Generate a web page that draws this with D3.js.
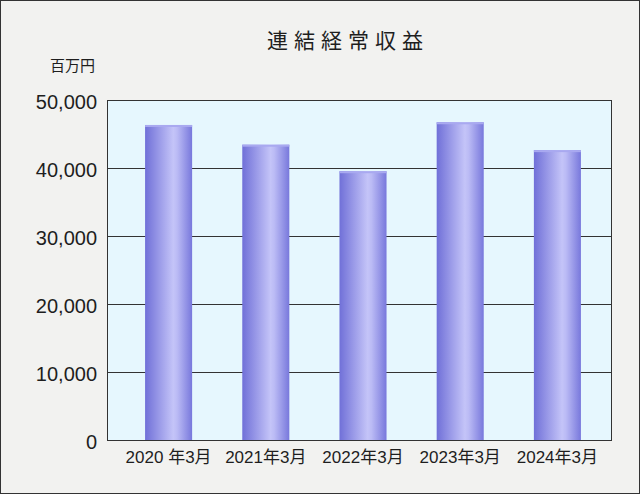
<!DOCTYPE html>
<html><head><meta charset="utf-8">
<script src="https://cdn.jsdelivr.net/npm/d3@7"></script>
<style>
html,body{margin:0;padding:0;background:#fff;}
svg{display:block;}
text{font-family:"Liberation Sans","Noto Sans CJK JP",Arial,sans-serif;fill:#1e1e1e;}
</style></head>
<body>
<script>
const title = "連結経常収益";
const unitLabel = "百万円";
const categories = ["2020 年3月", "2021年3月", "2022年3月", "2023年3月", "2024年3月"];
const values = [46400, 43500, 39600, 46800, 42700];
const yTicks = [0, 10000, 20000, 30000, 40000, 50000];

const W = 640, H = 495;
const plot = {left: 107.5, top: 100.5, right: 611.5, bottom: 440.5};

const svg = d3.select("body").append("svg").attr("width", W).attr("height", H);

const defs = svg.append("defs");
const grad = defs.append("linearGradient").attr("id", "barGrad")
  .attr("x1", "0%").attr("x2", "100%").attr("y1", "0%").attr("y2", "0%");
[[0, "#7070d8"], [0.3, "#9a9ae8"], [0.6, "#c4c4f8"], [0.68, "#bbbbf5"], [1, "#7878dc"]]
  .forEach(([o, c]) => grad.append("stop").attr("offset", o).attr("stop-color", c));

// outer frame
svg.append("rect").attr("x", 0.5).attr("y", 0.5).attr("width", W - 1).attr("height", H - 2)
  .attr("fill", "#f2f2f0").attr("stroke", "#333").attr("stroke-width", 1);

const y = d3.scaleLinear().domain([0, 50000]).range([plot.bottom, plot.top]);
const x = d3.scaleBand().domain(categories).range([120, 606]).paddingInner(0.516).paddingOuter(0.258);

// plot background
svg.append("rect").attr("x", plot.left).attr("y", plot.top)
  .attr("width", plot.right - plot.left).attr("height", plot.bottom - plot.top)
  .attr("fill", "#e6f7fe");

// gridlines
svg.append("g").selectAll("line").data(yTicks.filter(d => d > 0 && d < 50000)).join("line")
  .attr("x1", plot.left).attr("x2", plot.right)
  .attr("y1", d => y(d)).attr("y2", d => y(d))
  .attr("stroke", "#333").attr("stroke-width", 1);

// bars
const bars = svg.append("g").selectAll("g").data(categories).join("g");
bars.append("rect")
  .attr("x", d => x(d)).attr("width", x.bandwidth())
  .attr("y", (d, i) => y(values[i])).attr("height", (d, i) => y(0) - y(values[i]))
  .attr("fill", "url(#barGrad)");
bars.append("rect")
  .attr("x", d => x(d)).attr("width", x.bandwidth())
  .attr("y", (d, i) => y(values[i])).attr("height", 2)
  .attr("fill", "#a9a9f0");

// plot border
svg.append("rect").attr("x", plot.left).attr("y", plot.top)
  .attr("width", plot.right - plot.left).attr("height", plot.bottom - plot.top)
  .attr("fill", "none").attr("stroke", "#333").attr("stroke-width", 1);

// y axis labels
const yAxis = svg.append("g").attr("transform", "translate(97,1.5)")
  .call(d3.axisLeft(y).tickValues(yTicks).tickSize(0).tickPadding(0).tickFormat(d3.format(",")));
yAxis.select(".domain").remove();
yAxis.selectAll("text").attr("font-size", 20).attr("fill", "#1e1e1e")
  .style("font-family", '"Liberation Sans","Noto Sans CJK JP",Arial,sans-serif');

// x axis labels
const xAxis = svg.append("g").attr("transform", `translate(0,${plot.bottom})`)
  .call(d3.axisBottom(x).tickSize(0).tickPadding(10));
xAxis.select(".domain").remove();
xAxis.selectAll("text").attr("font-size", 17).attr("fill", "#1e1e1e")
  .style("font-family", '"Liberation Sans","Noto Sans CJK JP",Arial,sans-serif');

// title
svg.append("text").attr("x", 267).attr("y", 47.5)
  .attr("font-size", 21).attr("letter-spacing", 6)
  .style("font-family", '"Noto Sans CJK JP",sans-serif')
  .text(title);

// unit
svg.append("text").attr("x", 50).attr("y", 71)
  .attr("font-size", 15)
  .style("font-family", '"Noto Sans CJK JP",sans-serif')
  .text(unitLabel);
</script>
</body></html>
